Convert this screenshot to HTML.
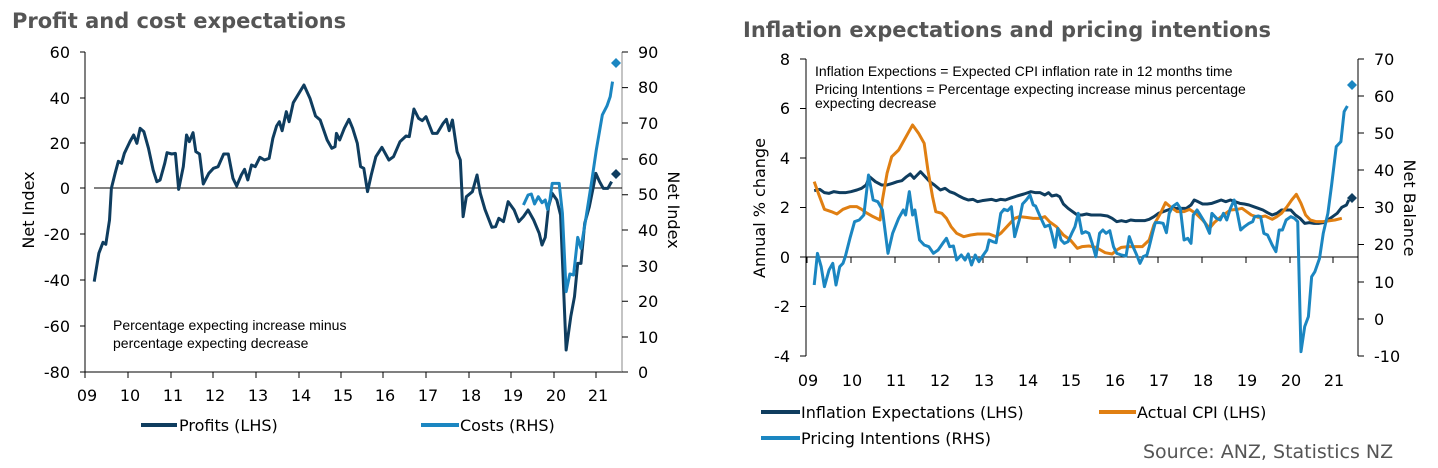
<!DOCTYPE html>
<html><head><meta charset="utf-8"><style>
body{margin:0;background:#fff;}
svg{display:block;font-family:"DejaVu Sans","Liberation Sans",sans-serif;}
.t{font-size:16px;fill:#000;}
.n{font-family:"Liberation Sans Narrow","Liberation Sans",sans-serif;font-size:14px;fill:#000;}
.ttl{font-family:"DejaVu Sans","Liberation Sans",sans-serif;font-weight:bold;font-size:21px;fill:#555;}
</style></head><body>
<svg width="1438" height="468" viewBox="0 0 1438 468">
<!-- LEFT CHART -->
<text class="ttl" x="12" y="28">Profit and cost expectations</text>
<g stroke="#000" stroke-width="1" fill="none">
<line x1="85" y1="52" x2="85" y2="372"/>
<line x1="85" y1="372" x2="622" y2="372"/>
<line x1="622" y1="52" x2="622" y2="372" stroke="#888"/>
<line x1="94" y1="188" x2="622" y2="188"/>
<path d="M80 52H85M80 98H85M80 143H85M80 188H85M80 234H85M80 280H85M80 326H85M80 372H85"/>
<path d="M622 52H628M622 87.6H628M622 123H628M622 159H628M622 194.7H628M622 230H628M622 266H628M622 301.3H628M622 337H628M622 372H628"/>
<path d="M85 372V378M128 372V378M171 372V378M213 372V378M256 372V378M299 372V378M341 372V378M383 372V378M426 372V378M469 372V378M511 372V378M554 372V378M596 372V378"/>
</g>
<g class="t" text-anchor="end">
<text x="70" y="58">60</text><text x="70" y="104">40</text><text x="70" y="149">20</text><text x="70" y="194">0</text>
<text x="70" y="240">-20</text><text x="70" y="286">-40</text><text x="70" y="332">-60</text><text x="70" y="378">-80</text>
</g>
<g class="t">
<text x="638" y="58">90</text><text x="638" y="93">80</text><text x="638" y="129">70</text><text x="638" y="165">60</text><text x="638" y="200">50</text><text x="638" y="236">40</text><text x="638" y="272">30</text><text x="638" y="307">20</text><text x="638" y="343">10</text><text x="638" y="378">0</text>
</g>
<g class="t" text-anchor="middle">
<text x="87" y="401">09</text><text x="130" y="401">10</text><text x="173" y="401">11</text><text x="215" y="401">12</text><text x="258" y="401">13</text><text x="301" y="401">14</text><text x="343" y="401">15</text><text x="385" y="401">16</text><text x="428" y="401">17</text><text x="471" y="401">18</text><text x="513" y="401">19</text><text x="556" y="401">20</text><text x="598" y="401">21</text>
</g>
<text class="t" transform="translate(34,210) rotate(-90)" text-anchor="middle">Net Index</text>
<text class="t" transform="translate(668,210) rotate(90)" text-anchor="middle">Net Index</text>
<text class="n" x="113" y="330">Percentage expecting increase minus</text>
<text class="n" x="113" y="348">percentage expecting decrease</text>
<g transform="scale(0.46404,0.33333)" fill="none" stroke-linejoin="round">
<polyline vector-effect="non-scaling-stroke" stroke="#0f3d5f" stroke-width="3" points="203,845 213,760 222,727 228,733 236,660 240,565 248,520 255,484 262,490 268,460 280,425 288,405 295,430 302,385 310,395 320,445 330,510 338,545 345,540 355,490 360,458 370,462 378,460 385,568 395,500 402,405 408,425 416,398 422,455 430,462 438,552 450,520 460,505 470,500 482,462 492,462 502,535 510,558 520,525 527,508 534,540 542,495 550,500 560,472 570,480 580,475 588,415 596,378 602,365 608,392 617,335 623,365 632,308 655,255 668,295 680,348 690,360 705,420 715,445 722,440 725,400 732,420 742,385 752,358 760,385 770,430 777,500 784,505 792,575 800,525 810,470 823,442 838,480 848,470 862,425 875,408 882,410 892,327 902,355 910,362 918,350 932,400 942,400 955,370 962,358 968,392 975,360 985,455 992,480 998,650 1005,590 1018,575 1028,525 1035,580 1045,628 1060,682 1068,680 1075,655 1085,665 1095,605 1108,630 1118,665 1128,650 1138,630 1150,660 1162,700 1168,735 1175,712 1182,620 1190,580 1200,600 1208,645 1220,1050 1230,950 1238,890 1245,790 1252,790 1260,670 1270,620 1278,565 1284,520 1292,545 1300,565 1310,565 1318,545"/>
<polyline vector-effect="non-scaling-stroke" stroke="#1b86c1" stroke-width="3" points="1128,615 1138,585 1145,582 1152,612 1160,590 1168,608 1175,600 1180,628 1185,600 1190,550 1205,550 1212,640 1220,875 1228,822 1236,825 1245,712 1252,745 1262,660 1275,545 1285,450 1298,345 1308,318 1315,290 1320,245"/>
</g>
<path d="M611 174l5 -5 5 5 -5 5z" fill="#0f3d5f"/>
<path d="M611 63l5 -5 5 5 -5 5z" fill="#1b86c1"/>
<line x1="141" y1="425" x2="177" y2="425" stroke="#0f3d5f" stroke-width="4"/>
<text class="t" x="179" y="431">Profits (LHS)</text>
<line x1="421" y1="425" x2="459" y2="425" stroke="#1b86c1" stroke-width="4"/>
<text class="t" x="460" y="431">Costs (RHS)</text>

<!-- RIGHT CHART -->
<text class="ttl" x="743" y="37">Inflation expectations and pricing intentions</text>
<g stroke="#000" stroke-width="1" fill="none">
<line x1="806" y1="59" x2="806" y2="356"/>
<line x1="1358" y1="59" x2="1358" y2="356"/>
<line x1="806" y1="257" x2="1358" y2="257"/>
<path d="M800 59H806M800 108.5H806M800 158H806M800 207.5H806M800 257H806M800 306.5H806M800 356H806"/>
<path d="M1358 59H1364M1358 96H1364M1358 133H1364M1358 170H1364M1358 207.5H1364M1358 244.5H1364M1358 282H1364M1358 319H1364M1358 356H1364"/>
<path d="M807 257V263M851 257V263M895 257V263M939 257V263M983 257V263M1027 257V263M1070 257V263M1114 257V263M1158 257V263M1202 257V263M1246 257V263M1290 257V263M1333 257V263"/>
</g>
<g class="t" text-anchor="end">
<text x="790" y="65">8</text><text x="790" y="114">6</text><text x="790" y="164">4</text><text x="790" y="213">2</text><text x="790" y="263">0</text><text x="790" y="312">-2</text><text x="790" y="362">-4</text>
</g>
<g class="t">
<text x="1374" y="65">70</text><text x="1374" y="102">60</text><text x="1374" y="139">50</text><text x="1374" y="176">40</text><text x="1374" y="213">30</text><text x="1374" y="250">20</text><text x="1374" y="288">10</text><text x="1374" y="325">0</text><text x="1374" y="362">-10</text>
</g>
<g class="t" text-anchor="middle">
<text x="808" y="386">09</text><text x="852" y="386">10</text><text x="896" y="386">11</text><text x="940" y="386">12</text><text x="984" y="386">13</text><text x="1028" y="386">14</text><text x="1071" y="386">15</text><text x="1115" y="386">16</text><text x="1159" y="386">17</text><text x="1203" y="386">18</text><text x="1247" y="386">19</text><text x="1291" y="386">20</text><text x="1334" y="386">21</text>
</g>
<text class="t" transform="translate(765,208) rotate(-90)" text-anchor="middle">Annual % change</text>
<text class="t" transform="translate(1404,208) rotate(90)" text-anchor="middle">Net Balance</text>
<text class="n" x="815" y="76">Inflation Expections = Expected CPI inflation rate in 12 months time</text>
<text class="n" x="815" y="94">Pricing Intentions = Percentage expecting increase minus percentage</text>
<text class="n" x="815" y="108">expecting decrease</text>
<g transform="translate(720,0) scale(0.46404,0.33333)" fill="none" stroke-linejoin="round">
<polyline vector-effect="non-scaling-stroke" stroke="#0f3d5f" stroke-width="3" points="203,572 215,568 225,578 235,580 245,575 258,578 270,578 282,575 295,570 305,565 315,555 322,530 335,545 348,555 360,555 372,550 382,545 392,542 402,530 410,522 418,535 425,525 432,515 442,530 452,545 462,555 475,570 485,565 495,575 505,580 515,588 525,595 535,600 545,598 555,605 565,602 575,600 585,598 595,602 605,598 615,600 625,595 640,588 655,582 670,575 680,578 690,578 700,585 708,578 715,588 725,585 732,590 740,612 750,625 760,635 770,645 780,645 790,642 800,645 810,645 820,645 835,648 845,655 855,665 865,662 875,665 885,660 895,662 905,662 915,662 925,658 935,650 945,640 955,635 965,630 975,625 985,625 995,625 1005,625 1015,615 1022,600 1030,605 1040,612 1050,612 1060,610 1070,605 1080,600 1090,605 1100,600 1110,605 1120,610 1130,612 1140,615 1150,620 1160,625 1170,630 1180,638 1190,645 1200,640 1210,630 1220,630 1230,630 1240,645 1250,655 1260,670 1270,668 1280,670 1290,670 1300,668 1310,660 1320,650 1330,640 1340,622 1350,615 1355,600"/>
<polyline vector-effect="non-scaling-stroke" stroke="#e07f12" stroke-width="3" points="203,545 212,580 225,628 240,635 252,642 265,628 280,620 295,620 305,628 315,638 330,650 345,660 350,600 360,520 370,470 385,450 395,425 405,400 415,375 428,400 440,430 448,510 458,590 465,635 478,640 488,655 498,680 510,700 525,710 540,705 555,702 570,702 580,702 595,710 605,700 615,685 625,670 635,655 645,650 660,652 675,655 690,655 700,650 710,665 725,680 740,705 755,720 770,745 780,740 795,738 810,742 820,750 830,758 845,762 855,750 865,742 880,740 895,740 910,740 925,720 935,675 950,638 960,608 970,620 985,635 1000,635 1012,628 1025,640 1040,660 1055,685 1065,668 1080,650 1090,640 1100,630 1115,628 1125,625 1135,635 1145,645 1160,652 1175,648 1190,658 1200,650 1210,640 1222,620 1232,600 1242,583 1252,610 1262,645 1272,660 1285,665 1300,665 1315,662 1325,660 1340,655"/>
<polyline vector-effect="non-scaling-stroke" stroke="#1b86c1" stroke-width="3" points="203,855 210,760 218,800 225,860 235,810 243,790 250,855 258,800 265,790 270,770 280,715 290,665 300,660 310,645 320,525 330,600 340,605 350,630 362,760 372,700 385,655 395,630 400,645 408,575 415,645 420,630 430,720 440,735 450,740 460,760 470,750 480,730 488,715 495,740 503,738 510,780 520,765 528,780 535,762 542,795 550,765 558,785 565,770 575,750 580,720 588,725 595,728 605,640 612,628 620,632 628,620 635,710 645,660 652,612 660,600 668,585 675,615 680,618 690,650 700,680 710,675 715,700 722,742 728,685 735,720 742,730 750,725 758,700 765,680 772,640 780,700 788,695 795,700 802,730 810,770 818,700 825,690 832,700 840,692 848,740 855,760 865,765 875,768 882,710 890,740 898,765 905,790 912,770 920,765 925,740 932,700 938,668 948,668 955,670 962,698 968,640 975,620 985,610 992,625 1000,720 1008,715 1015,730 1020,645 1028,630 1035,645 1045,668 1055,700 1060,640 1070,655 1078,660 1085,640 1092,660 1100,625 1108,600 1115,640 1122,690 1130,680 1140,670 1148,665 1152,650 1160,648 1165,650 1172,700 1180,705 1190,735 1198,755 1205,690 1212,690 1220,660 1230,650 1238,655 1245,665 1252,1055 1260,980 1268,950 1275,830 1282,815 1292,775 1300,700 1310,640 1318,555 1328,440 1338,425 1345,335 1352,318"/>
</g>
<path d="M1347 198l5 -5 5 5 -5 5z" fill="#0f3d5f"/>
<path d="M1347 85l5 -5 5 5 -5 5z" fill="#1b86c1"/>
<line x1="761" y1="412" x2="800" y2="412" stroke="#0f3d5f" stroke-width="4"/>
<text class="t" x="801" y="418">Inflation Expectations (LHS)</text>
<line x1="1099" y1="412" x2="1136" y2="412" stroke="#e07f12" stroke-width="4"/>
<text class="t" x="1137" y="418">Actual CPI (LHS)</text>
<line x1="761" y1="438" x2="800" y2="438" stroke="#1b86c1" stroke-width="4"/>
<text class="t" x="801" y="444">Pricing Intentions (RHS)</text>
<text x="1143" y="458" style="font-size:19px;fill:#555">Source: ANZ, Statistics NZ</text>
</svg>
</body></html>
